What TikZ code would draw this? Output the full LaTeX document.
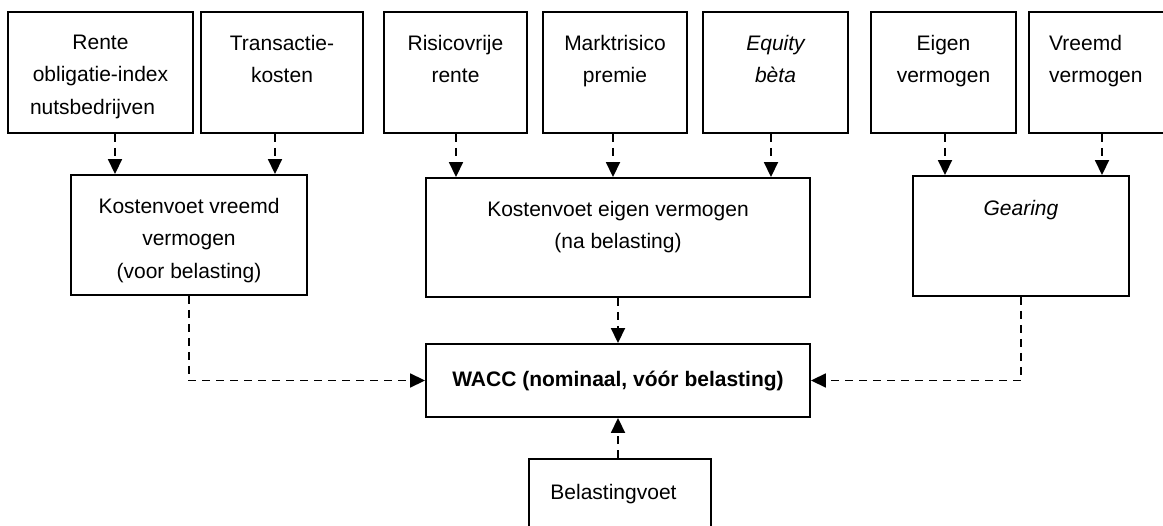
\documentclass[tikz,border=0pt]{standalone}
\usepackage{fontspec}
\setmainfont{Liberation Sans}
\usetikzlibrary{arrows.meta,calc}
\begin{document}
\begin{tikzpicture}[x=1pt,y=-1pt,
  box/.style={draw, line width=1.9pt, inner sep=0pt, rectangle},
  txt/.style={anchor=north, inner sep=0pt, align=center,
    font=\fontsize{21}{32.3}\selectfont},
  itxt/.style={txt, font=\fontsize{21}{32.3}\selectfont\itshape},
  plain/.style={anchor=base, inner sep=0pt, font=\fontsize{21}{32.3}\selectfont},
  arr/.style={line width=1.8pt, dash pattern=on 8pt off 6pt,
    -{Triangle[length=15pt,width=14pt]}},
]
\clip (0,0) rectangle (1163,526);
% top row
\node[box, minimum width=185pt, minimum height=121pt] (rente)  at (100.5,72.5) {};
\node[box, minimum width=162pt, minimum height=121pt] (trans)  at (282,72.5) {};
\node[box, minimum width=143pt, minimum height=121pt] (risico) at (455.5,72.5) {};
\node[box, minimum width=144pt, minimum height=121pt] (markt)  at (615,72.5) {};
\node[box, minimum width=145pt, minimum height=121pt] (equity) at (775.5,72.5) {};
\node[box, minimum width=145pt, minimum height=121pt] (eigen)  at (943.5,72.5) {};
\node[box, minimum width=146pt, minimum height=121pt] (vreemd) at (1102,72.5) {};
% middle row
\node[box, minimum width=236pt, minimum height=120pt] (kvv)  at (189,235) {};
\node[box, minimum width=384pt, minimum height=119pt] (kve)  at (618,237.5) {};
\node[box, minimum width=216pt, minimum height=120pt] (gear) at (1021,236) {};
% bottom
\node[box, minimum width=384pt, minimum height=73pt] (wacc) at (618,380.5) {};
\node[box, minimum width=182pt, minimum height=86pt] (bel)  at (620,502) {};
% texts
\node[txt] (trente) at (100.5,35) {Rente\\obligatie-index\\nutsbedrijven\rule{16pt}{0pt}};
\node[txt] (ttrans) at (282,35) {Transactie-\\kosten};
\node[txt] (trisico) at (455.5,35) {Risicovrije\\rente};
\node[txt] (tmarkt) at (615,35) {Marktrisico\\premie};
\node[itxt] (tequity) at (775.5,35) {Equity\\bèta};
\node[txt] (teigen) at (943.5,35) {Eigen\\vermogen};
\node[txt, anchor=north west, align=left] (tvreemd) at (1049,35) {Vreemd\\vermogen};
\node[txt] (tkvv) at (189,198) {Kostenvoet vreemd\\vermogen\\(voor belasting)};
\node[txt] (tkve) at (618,201) {Kostenvoet eigen vermogen\\(na belasting)};
\node[itxt] (tgear) at (1021,200) {Gearing};
\node[plain, font=\fontsize{21}{32.3}\selectfont\bfseries] (twacc) at (618,387) {WACC (nominaal, vóór belasting)};
\node[plain] (tbel) at (613.5,500) {Belastingvoet};
% connectors
\draw[arr] ([xshift=14.5pt]rente.south) -- ([xshift=14.5pt]rente.south |- kvv.north);
\draw[arr] ([xshift=-7pt]trans.south) -- ([xshift=-7pt]trans.south |- kvv.north);
\draw[arr] ([xshift=0.5pt]risico.south) -- ([xshift=0.5pt]risico.south |- kve.north);
\draw[arr] ([xshift=-2pt]markt.south) -- ([xshift=-2pt]markt.south |- kve.north);
\draw[arr] ([xshift=-4.5pt]equity.south) -- ([xshift=-4.5pt]equity.south |- kve.north);
\draw[arr] ([xshift=1.5pt]eigen.south) -- ([xshift=1.5pt]eigen.south |- gear.north);
\draw[arr] (vreemd.south) -- (vreemd.south |- gear.north);
\draw[arr] (kve.south) -- (wacc.north);
\draw[arr] (kvv.south) |- (wacc.west);
\draw[arr] (gear.south) |- (wacc.east);
\draw[arr] (bel.north -| wacc.south) -- (wacc.south);
\end{tikzpicture}
\end{document}
